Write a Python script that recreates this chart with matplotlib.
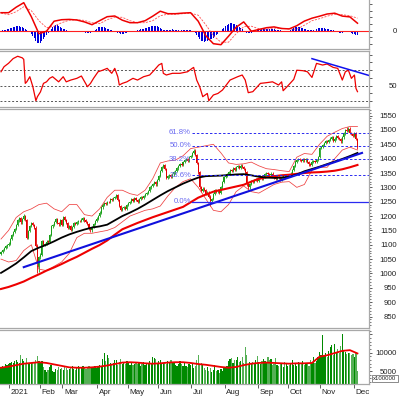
import numpy as np
import matplotlib
matplotlib.use("Agg")
import matplotlib.pyplot as plt
import matplotlib.transforms as mtrans

plt.rcParams['font.family'] = ['Liberation Sans', 'DejaVu Sans']

# ---------------- data (trading days from late Dec 2020 to early Dec 2021) -------------
first_open = 1068
close = [
    1075, 1082, 1088, 1094, 1100, 1104,
    # Jan
    1120, 1133, 1144, 1156, 1168, 1185, 1192, 1178, 1190, 1200,
    1186, 1125, 1148, 1165, 1176, 1170, 1160, 1097, 1024, 1056,
    # Feb
    1066, 1114, 1098, 1103, 1111, 1110, 1134, 1164, 1168, 1180, 1190, 1175, 1171, 1187, 1168,
    # Mar
    1197, 1186, 1175, 1160, 1166, 1152, 1162, 1176, 1172, 1178, 1184, 1182,
    1188, 1193, 1185, 1180, 1172, 1155, 1150, 1162, 1172, 1182, 1191,
    # Apr
    1200, 1212, 1230, 1240, 1246, 1242, 1250, 1248, 1258, 1255,
    1262, 1266, 1272, 1255, 1235, 1220, 1228, 1232, 1224, 1238,
    # May
    1245, 1250, 1258, 1254, 1262, 1256, 1250, 1260, 1266, 1262,
    1270, 1276, 1280, 1288, 1300, 1305, 1312, 1318, 1310, 1326,
    # Jun
    1340, 1358, 1372, 1378, 1365, 1333, 1338, 1342, 1336, 1345, 1352,
    1358, 1366, 1375, 1382, 1378, 1388, 1395, 1400, 1392, 1405, 1410,
    # Jul
    1420, 1428, 1412, 1385, 1352, 1300, 1288, 1296, 1292, 1276, 1282,
    1268, 1252, 1260, 1278, 1290, 1286, 1292, 1280, 1300, 1318, 1336,
    # Aug
    1340, 1346, 1352, 1360, 1358, 1366, 1362, 1370, 1374, 1368, 1376,
    1372, 1365, 1352, 1310, 1300, 1312, 1322, 1318, 1325, 1330, 1322,
    # Sep
    1332, 1338, 1328, 1336, 1345, 1350, 1346, 1342, 1348, 1340,
    1334, 1330, 1336, 1332, 1326, 1334, 1340, 1338, 1342, 1344,
    # Oct
    1342, 1348, 1360, 1375, 1390, 1396, 1400, 1395, 1392, 1398, 1394,
    1400, 1388, 1380, 1378, 1390, 1392, 1388, 1395, 1405, 1438,
    # Nov
    1440, 1448, 1455, 1462, 1458, 1466, 1470, 1475, 1462, 1470, 1478,
    1472, 1468, 1460, 1474, 1488, 1500, 1496, 1505, 1490, 1486, 1480,
    # Dec
    1488, 1468, 1440,
]
wick_low = {24: 1000, 25: 1006, 138: 1236, 163: 1292, 235: 1434}
wick_high = {15: 1206, 127: 1432, 228: 1511}

volume = [
    6000, 6500, 5700, 6800, 6600, 7000,
    7200, 7500, 7100, 7800, 8000, 7400, 7300, 9500, 8200, 7600,
    7100, 8600, 7000, 6800, 7200, 7500, 7300, 8100, 9000, 7600,
    7200, 7800, 6000, 5200, 4700, 5300, 6200, 6600, 5000, 4800, 5600, 5200, 6100, 5500, 5900,
    5400, 6000, 5800, 5200, 5600, 5900, 6300, 5500, 5300, 5800, 6400, 6100,
    5700, 6300, 6000, 5600, 5900, 6500, 6200, 5800, 6000, 6300, 5700,
    6400, 6700, 6100, 8300, 10000, 7600, 9400, 8500, 7200, 6800,
    7300, 8000, 7900, 6600, 7400, 8200, 7000, 7100, 6800, 7600,
    7200, 6700, 7400, 6600, 6900, 7100, 6800, 7300, 6500, 7000,
    7400, 6600, 6900, 7200, 7700, 7100, 8800, 8600, 8200, 7300,
    7600, 7900, 7000, 7300, 7500, 6800, 7600, 7300, 7900, 7400, 7100,
    6700, 6400, 7000, 7700, 6900, 6500, 7200, 6400, 6100, 7000, 6600,
    7100, 5900, 6500, 8000, 9300, 6800, 7300, 6600, 5800, 5400, 6200,
    5000, 5900, 4700, 5400, 6600, 4900, 5300, 4500, 5600, 5100, 6000,
    6200, 6500, 7600, 8300, 8600, 7200, 7900, 8100, 8800, 7400, 7600,
    8900, 7300, 11600, 9400, 6800, 7400, 6900, 7500, 6800, 8100, 9200,
    7400, 6900, 7600, 8300, 7700, 7100, 8900, 7900, 8200, 6600,
    7000, 8600, 6700, 6500, 7300, 6900, 6100, 7500, 7200, 6300,
    6700, 7100, 7900, 6600, 6800, 6400, 7400, 7200, 6800, 7600, 6600,
    7100, 7300, 6500, 8100, 7200, 8700, 7300, 7800, 8900, 10300,
    9500, 14800, 9000, 9800, 8800, 10400, 11600, 12100, 9400, 12500, 10200,
    11000, 9800, 11800, 15100, 10600, 10100, 9600, 9900, 10000, 9400, 9700,
    8900, 10000, 5000,
]

# indicator lines sampled every 5 trading days
ind_day = list(range(0, 236, 5))
ma_black = [1002, 1018, 1035, 1056, 1078, 1090, 1100, 1112, 1125, 1136, 1145, 1153,
            1160, 1164, 1170, 1185, 1200, 1212, 1225, 1240, 1256, 1272, 1287, 1300,
            1313, 1324, 1334, 1339, 1340, 1341, 1343, 1345, 1346, 1342, 1337, 1334,
            1333, 1334, 1337, 1345, 1356, 1364, 1372, 1381, 1390, 1399, 1409, 1420]
ma_red = [946, 953, 962, 972, 985, 997, 1010, 1021, 1033, 1046, 1058, 1072,
          1086, 1099, 1115, 1135, 1154, 1165, 1176, 1186, 1196, 1205, 1214, 1223,
          1232, 1248, 1264, 1275, 1285, 1291, 1297, 1303, 1309, 1320, 1330, 1335,
          1339, 1342, 1344, 1347, 1350, 1352, 1353, 1355, 1358, 1363, 1370, 1378]
bb_up = [1120, 1150, 1195, 1215, 1225, 1240, 1245, 1225, 1215, 1240, 1240, 1205,
         1200, 1225, 1265, 1290, 1290, 1278, 1272, 1290, 1330, 1385, 1392, 1395,
         1410, 1435, 1440, 1445, 1450, 1420, 1385, 1380, 1382, 1388, 1375, 1365,
         1362, 1358, 1355, 1405, 1418, 1415, 1450, 1478, 1492, 1505, 1512, 1512]
bb_lo = [1050, 1040, 1045, 1080, 1100, 1015, 1010, 1025, 1040, 1070, 1125, 1140,
         1140, 1145, 1150, 1160, 1180, 1200, 1210, 1220, 1225, 1235, 1270, 1300,
         1320, 1330, 1300, 1260, 1220, 1215, 1240, 1285, 1305, 1285, 1280, 1295,
         1310, 1318, 1320, 1300, 1310, 1360, 1370, 1370, 1400, 1430, 1440, 1430]
vol_ma = [5900, 6200, 6600, 7000, 7200, 7400, 7200, 6800, 6400, 6000, 5900, 5900,
          6000, 6200, 6500, 6900, 7300, 7400, 7300, 7100, 7000, 7100, 7300, 7400,
          7400, 7200, 6900, 6700, 6400, 6100, 5900, 6100, 6600, 7000, 7200, 7300,
          7200, 7100, 7000, 7100, 7100, 7200, 8900, 9300, 9900, 10500, 10700, 9800]
macd = [18, 18, 23.5, 28, 14, -3, -0.5, 9.5, 11, 11.3, 10.7, 8.8, 6, 10, 14, 14.7,
        10.5, 8, 8, 10, 14.5, 19.5, 17, 17, 17.6, 18, 9.5, -5, -13, -14, -5.5, 3.5,
        8.8, -0.5, 1.2, 3, 3.8, 2.2, 1.8, 5, 9.6, 12.5, 14.5, 16.7, 17.5, 14.6, 13.8, 7.5]
signal = [17.7, 16, 19, 24, 20, 10, 3, 4.5, 8, 10.5, 11, 10.3, 8, 7, 11, 13.5,
          13.4, 10, 8, 8, 10, 15, 16.5, 16.5, 17, 17.5, 15.5, 6, -5, -11.5, -11.5, -3,
          4, 4.5, 2, 1.5, 2.6, 2.4, 1.8, 1.5, 5.5, 10, 12, 14.5, 16.5, 16, 15, 12.5]
hist = [
    0.3, 0.5, 0.8, 1.0, 1.5, 2.0, 2.5, 3.0, 3.5, 4.0,
    4.5, 4.7, 4.5, 4.0, 3.2, 2.5, 1.5, 0.5, -0.5, -1.5,
    -3, -5, -7.5, -10, -12, -12.7, -12, -10.5, -8.5, -6.5,
    -4.5, -2.5, -0.5, 1.5, 3.5, 5, 5.7, 5.2, 4.5, 3.8,
    3, 2, 1.2, 0.5, 0, -0.5, -0.8, -1, -1, -0.8,
    -0.5, -0.3, -0.2, -0.5, -1, -1.5, -2, -2.5, -2.7, -2.5,
    -1.8, -0.8, 0.5, 2, 3.2, 3.8, 4, 3.8, 3.2, 2.5,
    1.5, 1.2, 0.8, 0.4, 0, -0.5, -1.2, -2, -2.7, -3.1,
    -3.3, -3.0, -2.6, -2.1, -1.6, -1.1, -0.7, -0.3, 0, 0.2,
    0.5, 0.8, 1.2, 1.6, 2.0, 2.5, 3, 3.5, 4, 4.3,
    4.6, 4.7, 4.7, 4.3, 3.5, 2.5, 1.5, 0.8, 0.5, 0.6,
    0.8, 1, 1.1, 1.2, 1.0, 0.8, 0.9, 1.1, 1.2, 1.0,
    0.9, 0.8, 1, 1.1, 0.9, 0.5, 0, -1, -2.5, -4.5,
    -6.5, -8.5, -10, -10.8, -11, -10.8, -10.2, -9.5, -8.8, -8,
    -7, -6, -4.5, -3, -1.5, 0, 1.5, 3, 4.5, 5.8,
    6.8, 7.3, 7.2, 6.8, 6.2, 5.5, 4.5, 3.5, 2.5, 1.2,
    0, -1.2, -2.2, -2.7, -2.6, -2.2, -1.6, -1, -0.4, 0.2,
    0.6, 1, 1.2, 1.3, 1.5, 1.6, 1.7, 1.6, 1.5, 1.3,
    1.2, 1.0, 0.8, 0.5, 0.2, 0, -0.4, -0.8, -1.0, -0.7,
    0, 1, 2, 3, 3.8, 4, 3.8, 3.3, 2.8, 2.2,
    1.8, 1.4, 1.1, 0.9, 0.8, 0.8, 1.0, 1.3, 1.8, 2.3,
    2.6, 2.7, 2.6, 2.4, 2.1, 1.7, 1.3, 0.9, 0.5, 0.2,
    -0.3, -0.8, -1.4, -2, -2.2, -2, -1.5, -1, -0.8, -1,
    -1.5, -2.2, -3, -3.8, -4.3, -4.8,
]
rsi_day = [0, 2, 5, 8, 11, 14, 15, 16, 17, 19, 21, 23, 24, 26, 28, 30, 32, 34, 38, 41,
           43, 46, 50, 53, 57, 59, 61, 64, 67, 70, 73, 75, 77, 78, 80, 83, 85, 87, 90, 94,
           98, 101, 104, 106, 107, 109, 113, 118, 123, 126, 127, 129, 131, 133, 136, 137,
           140, 143, 146, 151, 156, 159, 161, 163, 166, 171, 175, 179, 183, 185, 186, 189,
           193, 195, 199, 202, 205, 208, 212, 215, 219, 222, 225, 227, 229, 231, 233, 234, 235]
rsi_val = [68, 74.5, 79, 85, 88, 86, 84, 53, 55, 61.6, 48.7, 30.6, 35.8, 42, 53, 55, 59.5,
           61.6, 55, 61.6, 55, 57.3, 59.5, 62.5, 48.7, 53, 59.5, 68, 70, 72.4, 66, 72.4,
           61.6, 50.9, 53, 55, 57.3, 59.5, 57.3, 61.6, 63.8, 70, 76.7, 78.8, 66, 63.8, 66,
           66, 68, 72.4, 73.6, 57.3, 48.7, 35.8, 40, 30.6, 38, 40, 44.4, 57.3, 61.6, 63.8,
           57.3, 41, 42.3, 53, 53.9, 55, 50.9, 55, 43.5, 49.6, 58.2, 70, 69.4, 68, 60.7,
           78.8, 76.7, 78, 73.6, 72.4, 57.3, 68, 70, 59.5, 63.8, 46.6, 42.3]

trend_day = [15, 238]
trend_val = [1022, 1420]
rsi_trend_day = [205, 243]
rsi_trend_val = [84.9, 63]

fib_labels = ["61.8%", "50.0%", "38.2%", "23.6%", "0.0%"]
fib_levels = [1491, 1445, 1398, 1342, 1250]
fib_start_day = 126

month_labels = ["2021", "Feb", "Mar", "Apr", "May", "Jun", "Jul", "Aug", "Sep", "Oct", "Nov", "Dec"]
month_start = [6, 26, 41, 64, 84, 104, 126, 148, 170, 190, 211, 233]

# ---------------- figure ------------------------------------------------------------------
W, H = 400, 396
fig = plt.figure(figsize=(W / 100, H / 100), dpi=100)
fig.patch.set_facecolor('white')


def axes_px(top, bottom, right=369):
    return fig.add_axes([0, 1 - bottom / H, right / W, (bottom - top) / H])


ax_macd = axes_px(0, 49)
ax_rsi = axes_px(51, 107)
ax_p = axes_px(109, 328)
ax_v = axes_px(330, 384)

xmin, xmax = -0.66, 242.6
GRID = '#a8a8a8'
TXT = '#222222'
for ax in (ax_macd, ax_rsi, ax_p, ax_v):
    ax.set_xlim(xmin, xmax)
    ax.set_facecolor('white')
    ax.spines['left'].set_visible(False)
    for s in ('top', 'bottom', 'right'):
        ax.spines[s].set_color(GRID)
        ax.spines[s].set_linewidth(0.9)
    ax.yaxis.tick_right()
    ax.tick_params(axis='y', which='major', length=2.5, width=0.6, color='#444',
                   labelsize=5.6, labelcolor=TXT, pad=17.6, direction='out')
    ax.tick_params(axis='y', which='minor', length=1.4, width=0.5, color='#444', direction='out')
    ax.tick_params(axis='x', which='both', bottom=False, labelbottom=False)
ax_macd.spines['top'].set_visible(False)

x = np.arange(len(close))

# ---------------- MACD ----------------------------------------------------------------------
ax_macd.set_ylim(-18.3, 30.7)
ax_macd.bar(x, hist, width=0.65, color='#0000dd', linewidth=0)
ax_macd.axhline(0, color='#ff2020', lw=0.8)
ax_macd.plot(ind_day, signal, color='#ff5050', lw=0.6, ls=(0, (2.5, 1.5)))
ax_macd.plot(ind_day, macd, color='#ee0000', lw=1.1)
ax_macd.set_yticks([-13.4, -6.7, 0, 6.7, 13.4, 20.1, 26.8])
ax_macd.set_yticklabels(['', '', '0', '', '', '', ''])

# ---------------- RSI -----------------------------------------------------------------------
ax_rsi.set_ylim(22.5, 94.8)
for lv in (30, 50, 70):
    ax_rsi.axhline(lv, color='#555555', lw=0.7, ls=(0, (2, 2)))
ax_rsi.plot(rsi_day, rsi_val, color='#ee0000', lw=0.9)
ax_rsi.plot(rsi_trend_day, rsi_trend_val, color='#1010ee', lw=1.1)
ax_rsi.set_yticks([30, 40, 50, 60, 70, 80, 90])
ax_rsi.set_yticklabels(['', '', '50', '', '', '', ''])

# ---------------- Price ---------------------------------------------------------------------
ax_p.set_ylim(810, 1573)
c = np.array(close, float)
o = np.r_[first_open, c[:-1]]
hi = np.maximum(o, c) + 4
lo = np.minimum(o, c) - 4
for k, v in wick_low.items():
    lo[k] = v
for k, v in wick_high.items():
    hi[k] = v
up = c >= o
col = np.where(up, '#18a018', '#e40000')
ax_p.vlines(x, lo, hi, colors=col, lw=0.6)
ax_p.bar(x, np.maximum(np.abs(c - o), 1.5), bottom=np.minimum(o, c), width=0.7,
         color=col, linewidth=0)

ax_p.plot(ind_day, bb_up, color='#ee4040', lw=0.55)
ax_p.plot(ind_day, bb_lo, color='#ee4040', lw=0.55)
ax_p.plot(ind_day, ma_red, color='#ee0000', lw=1.5)
ax_p.plot(ind_day, ma_black, color='#000000', lw=1.3)
ax_p.plot(trend_day, trend_val, color='#1010dd', lw=1.5)

for lab, lv in zip(fib_labels, fib_levels):
    if lab == "0.0%":
        ax_p.plot([fib_start_day, xmax], [lv, lv], color='#2a2af0', lw=0.9)
    else:
        ax_p.plot([fib_start_day, xmax], [lv, lv], color='#2a2af0', lw=0.7, ls=(0, (2.5, 2)))
    ax_p.text(fib_start_day - 0.8, lv, lab, ha='right', va='center', fontsize=5.6,
              color='#6a6af0')

ax_p.set_yticks(np.arange(850, 1551, 50))
ax_p.set_yticks(np.arange(820, 1571, 10), minor=True)

# ---------------- Volume --------------------------------------------------------------------
ax_v.set_ylim(1450, 16200)
vcol = np.where(up, '#008a00', '#55b055')
ax_v.bar(x, volume, width=0.8, color=vcol, linewidth=0)
ax_v.plot(ind_day, vol_ma, color='#ee0000', lw=1.3)
ax_v.set_yticks([5000, 10000, 15000])
ax_v.set_yticklabels(['5000', '10000', ''])
ax_v.set_yticks(np.arange(2000, 16001, 1000), minor=True)

ax_v.set_xticks([m - 0.5 for m in month_start])
ax_v.set_xticklabels(month_labels)
ax_v.tick_params(axis='x', which='major', bottom=True, labelbottom=True, length=3,
                 width=0.6, color='#444', labelsize=5.8, labelcolor=TXT, pad=0.5)
off = mtrans.ScaledTranslation(1.5 / 100, 0, fig.dpi_scale_trans)
for lbl in ax_v.get_xticklabels():
    lbl.set_ha('left')
    lbl.set_transform(lbl.get_transform() + off)

for ax in (ax_macd, ax_rsi, ax_p, ax_v):
    for lbl in ax.get_yticklabels():
        lbl.set_ha('right')

fig.text(385 / W, 1 - 378.5 / H, 'x100000', ha='center', va='center', fontsize=4.3,
         color=TXT, bbox=dict(boxstyle='square,pad=0.15', fc='white', ec='#777777', lw=0.6))

fig.savefig('out.png', dpi=100, facecolor='white')
